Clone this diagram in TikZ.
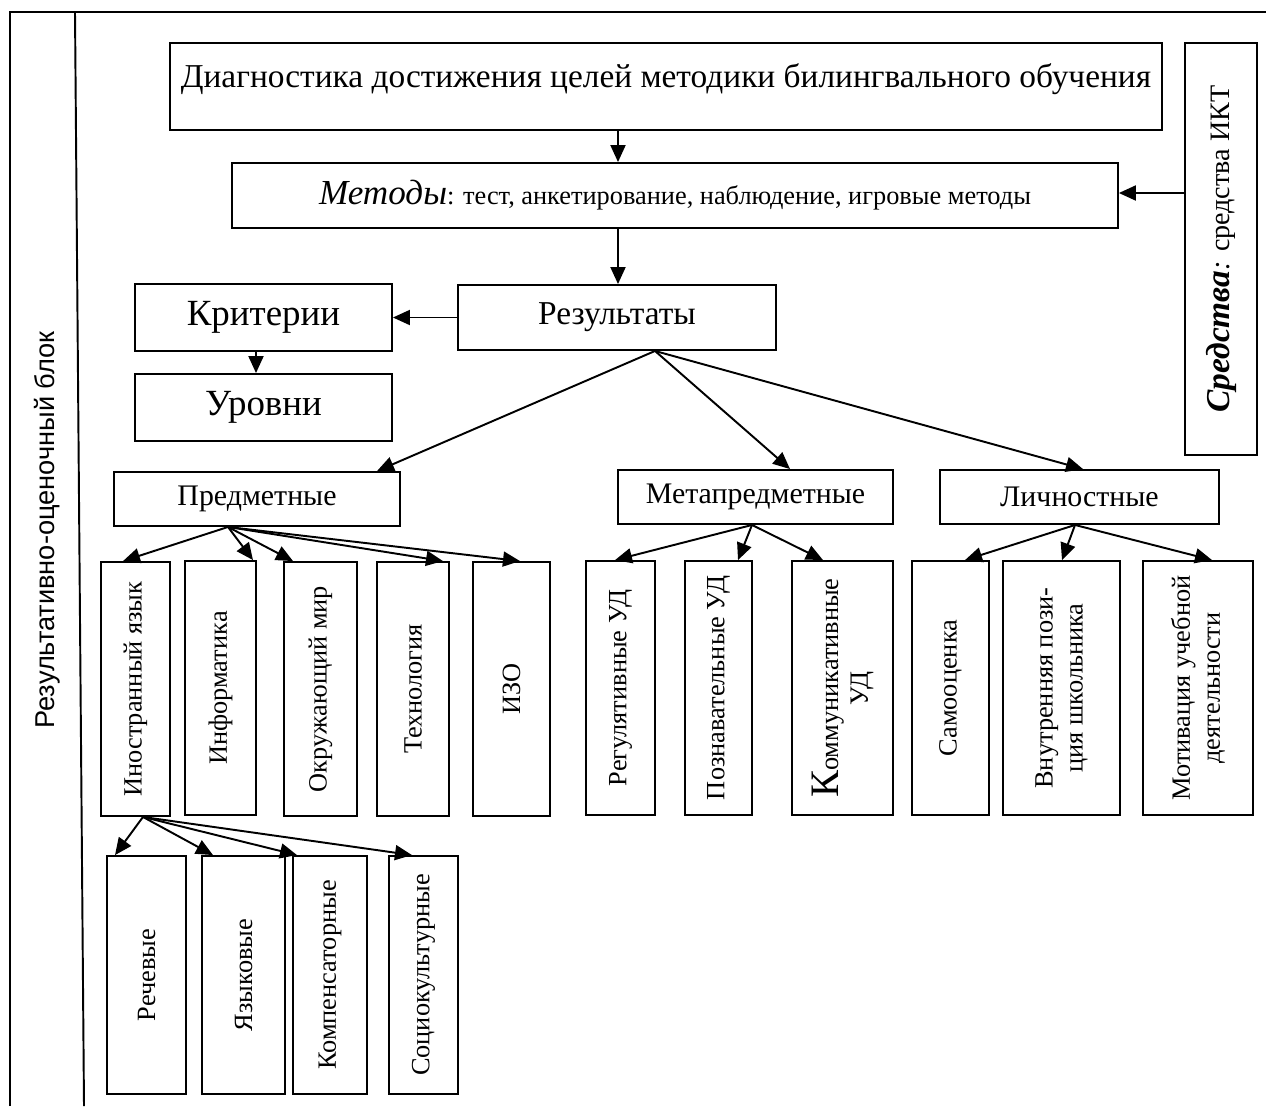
\documentclass[tikz,border=0pt]{standalone}
\usepackage{fontspec}
\setmainfont{Liberation Serif}
\newfontfamily\sidefont{Liberation Sans}
\usetikzlibrary{arrows.meta}

\begin{document}
\begin{tikzpicture}[x=0.02cm, y=-0.02cm,
        box/.style={rectangle, draw, line width=1.1pt, align=center, inner sep=2pt, font=\fontsize{17}{20}\selectfont},
        vbox/.style={box, rotate=90, minimum width=5.08cm, font=\fontsize{15}{17}\selectfont},
        lowbox/.style={vbox, minimum width=4.76cm},
        arrow/.style={-{Triangle[length=0.34cm,width=0.3cm]}, line width=1.1pt}]

        \useasboundingbox (0,0) rectangle (1266,1106);

        % frame of the block
        \draw[line width=1.1pt] (10,1106) -- (10,12) -- (1266,12);
        \draw[line width=1.1pt] (75,12) -- (84,1106);
        \node[rotate=90, font=\sidefont\fontsize{15.5}{18}\selectfont] (blocklabel) at (47,530) {Результативно-оценочный блок};

        \node[box, minimum width=19.84cm, minimum height=1.74cm, font=\fontsize{19}{22}\selectfont] (diag) at (666,86.5) {Диагностика достижения целей методики билингвального обучения\\[-9pt]\mbox{}};
        \node[box, minimum width=17.72cm, minimum height=1.3cm, font=\fontsize{15}{18}\selectfont] (meth) at (675,195.5) {{\itshape\fontsize{20}{22}\selectfont Методы}: тест, анкетирование, наблюдение, игровые методы};
        \node[box, rotate=90, minimum width=8.24cm, minimum height=1.44cm, font=\fontsize{16}{18}\selectfont] (tools) at (1221,249) {{\bfseries\itshape\fontsize{19}{21}\selectfont Средства}\textit{:} средства ИКТ};
        \node[box, minimum width=6.36cm, minimum height=1.3cm, font=\fontsize{19}{22}\selectfont] (res) at (617,317.5) {Результаты};
        \node[box, minimum width=5.14cm, minimum height=1.34cm, font=\fontsize{21}{24}\selectfont] (crit) at (263.5,317.5) {Критерии};
        \node[box, minimum width=5.14cm, minimum height=1.34cm, font=\fontsize{21}{24}\selectfont] (lev) at (263.5,407.5) {Уровни};

        \node[box, minimum width=5.72cm, minimum height=1.08cm] (subj) at (257,499) {Предметные};
        \node[box, minimum width=5.5cm, minimum height=1.08cm] (meta) at (755.5,497) {Метапредметные};
        \node[box, minimum width=5.58cm, minimum height=1.08cm] (pers) at (1079.5,497) {Личностные};

        % subject results
        \node[vbox, minimum height=1.38cm] (foreign) at (135.5,689) {Иностранный язык};
        \node[vbox, minimum height=1.42cm] (inform) at (220.5,688) {Информатика};
        \node[vbox, minimum height=1.46cm] (world) at (320.5,689) {Окружающий мир};
        \node[vbox, minimum height=1.44cm] (tech) at (413,689) {Технология};
        \node[vbox, minimum height=1.54cm] (art) at (511.5,689) {ИЗО};

        % metasubject results
        \node[vbox, minimum height=1.38cm] (regul) at (620.5,688) {Регулятивные УД};
        \node[vbox, minimum height=1.34cm] (cogn) at (718.5,688) {Познавательные УД};
        \node[vbox, minimum height=2.02cm] (comm) at (842.5,688) {{\fontsize{23}{23}\selectfont К}оммуникативные\\УД};

        % personal results
        \node[vbox, minimum height=1.54cm] (self) at (950.5,688) {Самооценка};
        \node[vbox, minimum height=2.34cm] (inner) at (1061.5,688) {Внутренняя пози-\\ция школьника};
        \node[vbox, minimum height=2.2cm] (motiv) at (1198,688) {Мотивация учебной\\деятельности};

        % foreign language
        \node[lowbox, minimum height=1.58cm] (speech) at (146.5,975) {Речевые};
        \node[lowbox, minimum height=1.66cm] (lang) at (243.5,975) {Языковые};
        \node[lowbox, minimum height=1.48cm] (comp) at (330,975) {Компенсаторные};
        \node[lowbox, minimum height=1.38cm] (socio) at (423.5,975) {Социокультурные};

        \draw[arrow] (618,0 |- diag.south) -- (618,0 |- meth.north);
        \draw[arrow] (618,0 |- meth.south) -- (618,0 |- res.north);
        \draw[arrow] (tools.north |- 0,193) -- (meth.east |- 0,193);
        \draw[arrow] (res.west) -- (crit.east);
        \draw[arrow] (256,0 |- crit.south) -- (256,0 |- lev.north);

        \draw[arrow] (655,0 |- res.south) -- (377,0 |- subj.north);
        \draw[arrow] (655,0 |- res.south) -- (790,0 |- meta.north);
        \draw[arrow] (655,0 |- res.south) -- (1083,0 |- pers.north);

        \draw[arrow] (228,0 |- subj.south) -- (123,0 |- foreign.east);
        \draw[arrow] (228,0 |- subj.south) -- (253,0 |- inform.east);
        \draw[arrow] (228,0 |- subj.south) -- (293,0 |- world.east);
        \draw[arrow] (228,0 |- subj.south) -- (443,0 |- tech.east);
        \draw[arrow] (228,0 |- subj.south) -- (520,0 |- art.east);

        \draw[arrow] (752,0 |- meta.south) -- (615,0 |- regul.east);
        \draw[arrow] (752,0 |- meta.south) -- (738,0 |- cogn.east);
        \draw[arrow] (752,0 |- meta.south) -- (823,0 |- comm.east);

        \draw[arrow] (1075,0 |- pers.south) -- (965,0 |- self.east);
        \draw[arrow] (1075,0 |- pers.south) -- (1062,0 |- inner.east);
        \draw[arrow] (1075,0 |- pers.south) -- (1212,0 |- motiv.east);

        \draw[arrow] (143,0 |- foreign.west) -- (115,0 |- speech.east);
        \draw[arrow] (143,0 |- foreign.west) -- (213,0 |- lang.east);
        \draw[arrow] (143,0 |- foreign.west) -- (297,0 |- comp.east);
        \draw[arrow] (143,0 |- foreign.west) -- (412,0 |- socio.east);

    \end{tikzpicture}
\end{document}
